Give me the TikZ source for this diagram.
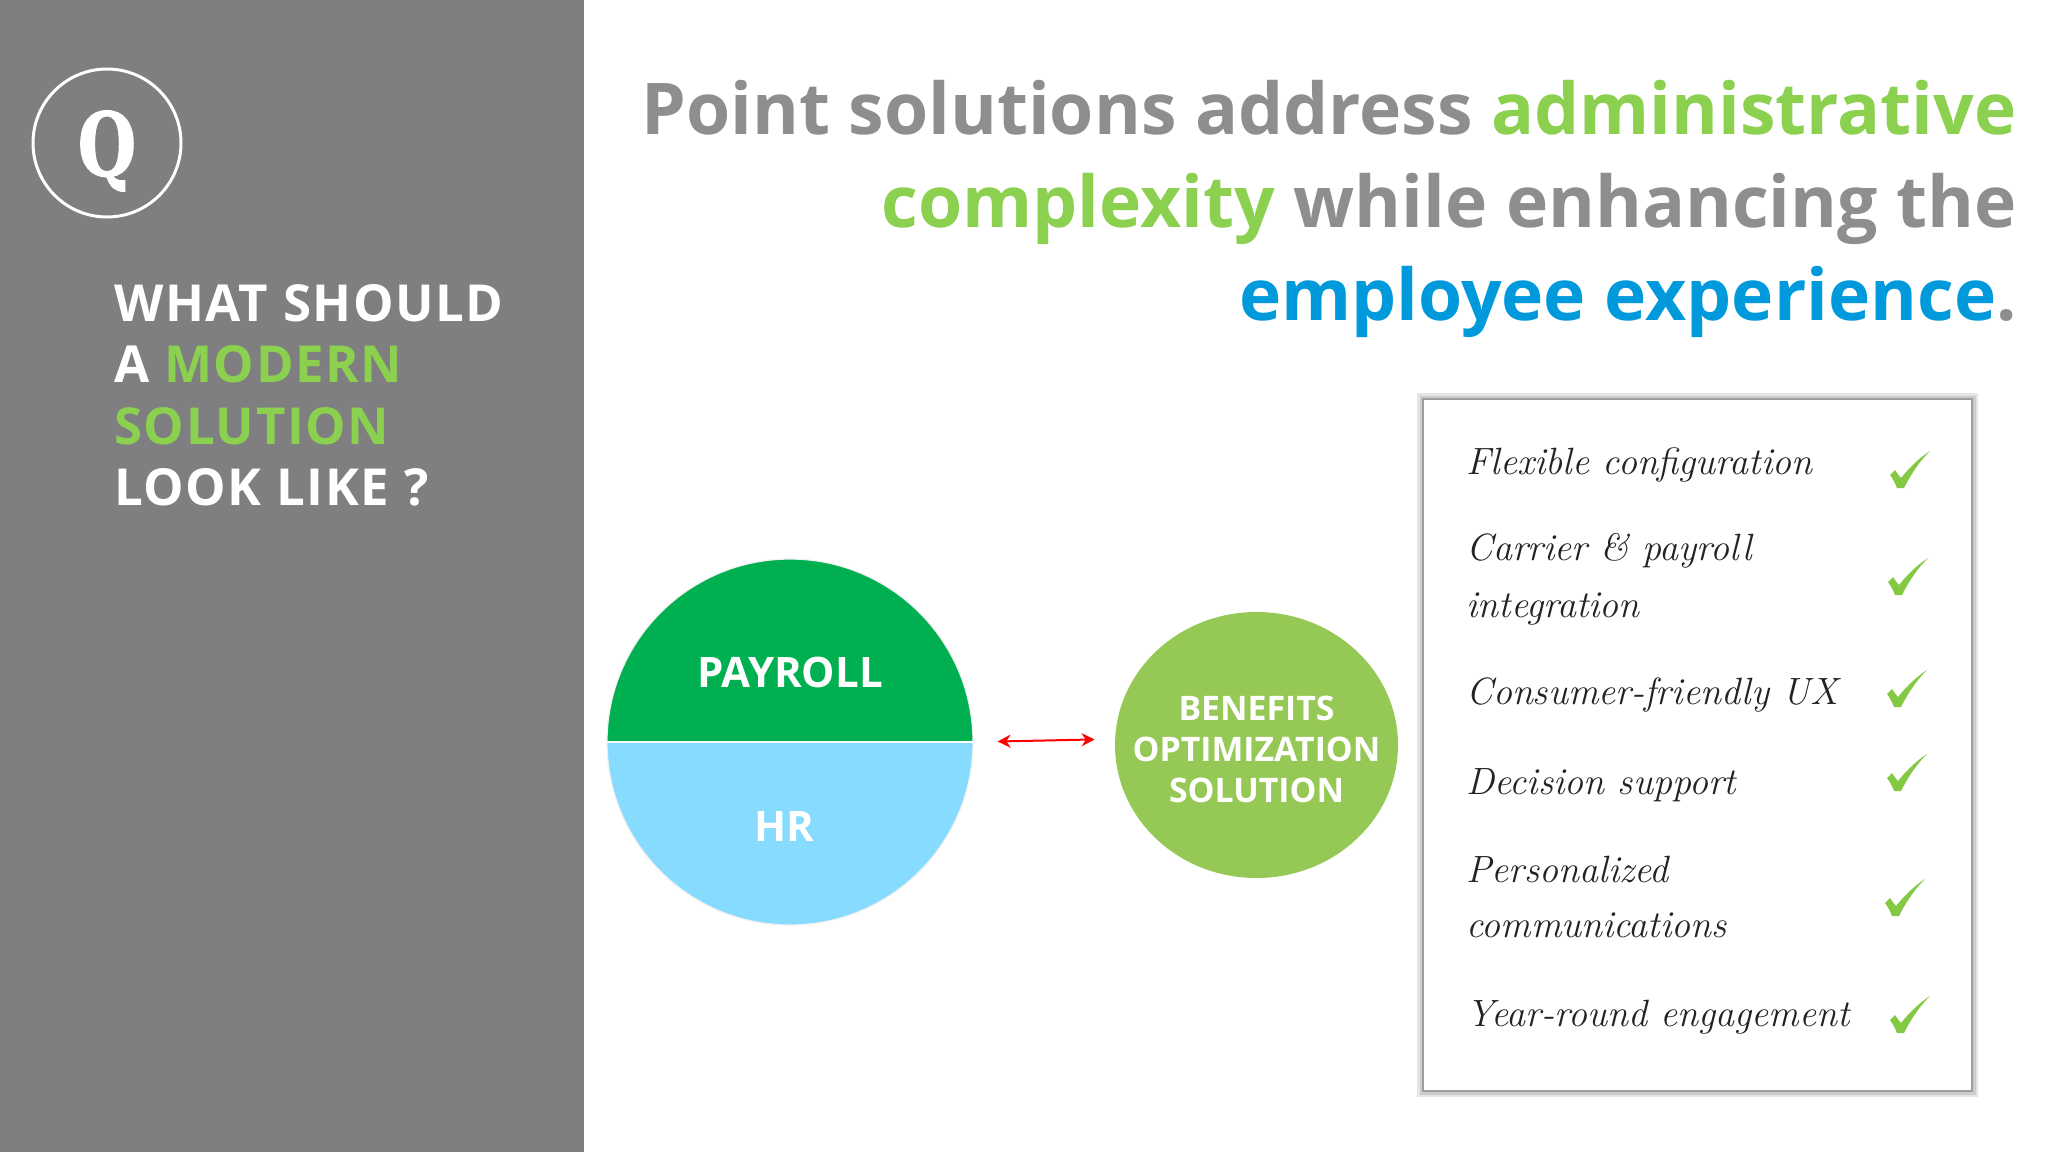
\documentclass[tikz,border=0pt]{standalone}
\usepackage{xcolor}
\usepackage{fontspec}
\setmainfont{Open Sans}
\newfontfamily\headfont[LetterSpace=3.0]{Open Sans}
\newfontfamily\qfont[BoldFeatures={FakeBold=1.5}]{DejaVu Serif}
\newfontfamily\handfont{Latin Modern Roman}
\usepackage{tikz}
\usetikzlibrary{positioning}
\usetikzlibrary{arrows.meta}
\usetikzlibrary{shapes.geometric}
\definecolor{panelgray}{HTML}{7F7E80}
\definecolor{titlegray}{HTML}{8E8E90}
\definecolor{limegreen}{HTML}{8BD04E}
\definecolor{skyblue}{HTML}{0099DB}
\definecolor{payrollgreen}{HTML}{00B050}
\definecolor{hrblue}{HTML}{87DBFF}
\definecolor{benefitsgreen}{HTML}{96C856}
\definecolor{tickgreen}{HTML}{84C944}
\definecolor{inkgray}{HTML}{232325}
\tikzset{
  itemtext/.style={anchor=base west, inner sep=0pt, text=inkgray, font=\handfont\itshape\fontsize{19pt}{23pt}\selectfont},
  disclabel/.style={text=white, font=\bfseries\fontsize{21pt}{25pt}\selectfont, inner sep=0pt},
  checkmark/.pic={\fill[tickgreen] (-10,-13) -- (-5,-18) .. controls (-3,-15) and (-1,-12) .. (1,-10) .. controls (9,-20) and (19,-30) .. (30,-37) .. controls (18,-25) and (10,-12) .. (4,0) -- (-3,0) .. controls (-5,-5) and (-7,-9) .. (-10,-13) -- cycle;}
}
\begin{document}
\begin{tikzpicture}[x=0.5pt,y=-0.5pt]
\useasboundingbox (0,0) rectangle (2048,1152);
\fill [panelgray] (0,0) rectangle (584,1152);

\node (qring) at (107,143) [circle, draw=white, line width=1.5pt, minimum size=74pt, inner sep=0pt] {};
\node (qletter) at ([yshift=-4pt]qring.center) [inner sep=0pt, text=white, font=\qfont\bfseries\fontsize{38pt}{40pt}\selectfont] {\scalebox{0.88}[1.15]{Q}};

\node (question) at (114,284) [anchor=north west, inner sep=0pt, align=left, text=white, font=\headfont\bfseries\fontsize{25.5pt}{30.7pt}\selectfont] {WHAT SHOULD\\A \textcolor{limegreen}{MODERN}\\\textcolor{limegreen}{SOLUTION}\\LOOK LIKE ?};

\node (headline) at (2017,80) [anchor=north east, inner sep=0pt, align=right, text=titlegray, font=\bfseries\fontsize{35.7pt}{46.5pt}\selectfont] {Point solutions address \textcolor{limegreen}{administrative}\\\textcolor{limegreen}{complexity} while enhancing the\\\textcolor{skyblue}{employee experience}.};

\fill [payrollgreen] (607,742) arc (180:0:91.5pt) -- cycle;
\fill [hrblue] (607,742) arc (180:360:91.5pt) -- cycle;
\draw [white, line width=1.2pt] (607,742) -- (973,742);
\node (disc) at (790,742) [circle, draw=black!6, line width=0.6pt, minimum size=183pt, inner sep=0pt] {};
\node (payroll) at (790,672) [disclabel] {PAYROLL};
\node (hr) at (784,826) [disclabel] {HR};

\node (benefits) [right=70.5pt of disc, yshift=-1.5pt, ellipse, fill=benefitsgreen, minimum width=141.5pt, minimum height=133pt, inner sep=0pt] {};
\node (benefitstext) at ([yshift=-2pt]benefits.center) [inner sep=0pt, align=center, text=white, font=\bfseries\fontsize{16.9pt}{20.5pt}\selectfont] {BENEFITS\\OPTIMIZATION\\SOLUTION};

\draw [red, line width=1pt, {Stealth[length=6.5pt,width=6.5pt]}-{Stealth[length=6.5pt,width=6.5pt]}, shorten <=12pt, shorten >=10pt] (disc.east) -- ([yshift=3pt]benefits.west);

% soft edge round the list
\node (checklist) at (1697.5,745) [rectangle, fill=white, minimum width=274.5pt, minimum height=346pt, preaction={draw=black!10, line width=6pt}, preaction={draw=black!20, line width=3.5pt}, draw=black!38, line width=1.2pt] {};

\node (flexible) at (1466,474) [itemtext] {Flexible configuration};
\node (carrier) at (1466,560) [itemtext] {Carrier \& payroll};
\node (integration) at (1466,617) [itemtext] {integration};
\node (consumer) at (1466,704) [itemtext] {Consumer-friendly UX};
\node (decision) at (1466,794) [itemtext] {Decision support};
\node (personalized) at (1466,882) [itemtext] {Personalized};
\node (communications) at (1466,937) [itemtext] {communications};
\node (yearround) at (1466,1026) [itemtext] {Year-round engagement};

\pic at (1900,488) {checkmark};
\pic at (1898,595) {checkmark};
\pic at (1897,707) {checkmark};
\pic at (1897,791) {checkmark};
\pic at (1895,916) {checkmark};
\pic at (1900,1033) {checkmark};
\end{tikzpicture}
\end{document}
